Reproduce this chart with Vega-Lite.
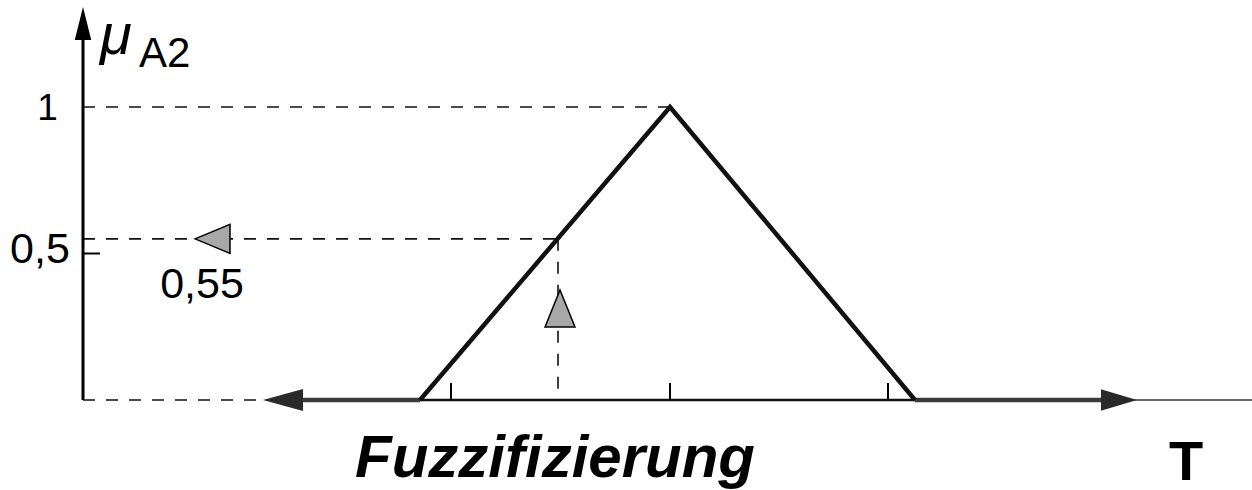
{
  "$schema": "https://vega.github.io/schema/vega-lite/v6.json",
  "width": 1252,
  "height": 490,
  "padding": 0,
  "autosize": {"type": "none"},
  "background": "white",
  "config": {"view": {"stroke": null}},
  "datasets": {
    "guides": [
      {"x": 83, "y": 1, "x2": 670, "y2": 1},
      {"x": 83, "y": 0.55, "x2": 558, "y2": 0.55},
      {"x": 558, "y": 0.55, "x2": 558, "y2": 0},
      {"x": 83, "y": 0, "x2": 263, "y2": 0}
    ],
    "yaxis": [{"x": 83, "y": 0, "x2": 83, "y2": 1.27}],
    "ticks": [
      {"x": 83, "y": 0.5, "x2": 100, "y2": 0.5},
      {"x": 451, "y": 0, "x2": 451, "y2": 0.058},
      {"x": 670, "y": 0, "x2": 670, "y2": 0.058},
      {"x": 888, "y": 0, "x2": 888, "y2": 0.058}
    ],
    "thickbase": [
      {"x": 300, "y": 0, "x2": 420, "y2": 0},
      {"x": 915, "y": 0, "x2": 1105, "y2": 0}
    ],
    "midbase": [{"x": 420, "y": 0, "x2": 915, "y2": 0}],
    "thinbase": [{"x": 1130, "y": 0, "x2": 1252, "y2": 0}],
    "membership": [
      {"t": 420, "mu": 0},
      {"t": 670, "mu": 1},
      {"t": 915, "mu": 0}
    ],
    "upArrow": [{"x": 83, "y": 1.285}],
    "leftArrow": [{"x": 283, "y": 0}],
    "rightArrow": [{"x": 1119, "y": 0}],
    "leftMarker": [{"x": 212.5, "y": 0.55}],
    "upMarker": [{"x": 560, "y": 0.312}]
  },
  "encoding": {},
  "layer": [
    {
      "data": {"name": "guides"},
      "mark": {"type": "rule", "color": "#111", "strokeWidth": 1.6, "strokeDash": [12, 11]},
      "encoding": {
        "x": {"field": "x", "type": "quantitative", "scale": {"domain": [0, 1252], "nice": false, "zero": false}, "axis": null},
        "y": {"field": "y", "type": "quantitative", "scale": {"domain": [-0.3072, 1.3652], "nice": false, "zero": false}, "axis": null},
        "x2": {"field": "x2"},
        "y2": {"field": "y2"}
      }
    },
    {
      "data": {"name": "yaxis"},
      "mark": {"type": "rule", "color": "#000", "strokeWidth": 3},
      "encoding": {
        "x": {"field": "x", "type": "quantitative"},
        "y": {"field": "y", "type": "quantitative"},
        "x2": {"field": "x2"},
        "y2": {"field": "y2"}
      }
    },
    {
      "data": {"name": "ticks"},
      "mark": {"type": "rule", "color": "#000", "strokeWidth": 2},
      "encoding": {
        "x": {"field": "x", "type": "quantitative"},
        "y": {"field": "y", "type": "quantitative"},
        "x2": {"field": "x2"},
        "y2": {"field": "y2"}
      }
    },
    {
      "data": {"name": "thickbase"},
      "mark": {"type": "rule", "color": "#3a3a3a", "strokeWidth": 4.5},
      "encoding": {
        "x": {"field": "x", "type": "quantitative"},
        "y": {"field": "y", "type": "quantitative"},
        "x2": {"field": "x2"},
        "y2": {"field": "y2"}
      }
    },
    {
      "data": {"name": "midbase"},
      "mark": {"type": "rule", "color": "#111", "strokeWidth": 2.5},
      "encoding": {
        "x": {"field": "x", "type": "quantitative"},
        "y": {"field": "y", "type": "quantitative"},
        "x2": {"field": "x2"},
        "y2": {"field": "y2"}
      }
    },
    {
      "data": {"name": "thinbase"},
      "mark": {"type": "rule", "color": "#333", "strokeWidth": 1.5},
      "encoding": {
        "x": {"field": "x", "type": "quantitative"},
        "y": {"field": "y", "type": "quantitative"},
        "x2": {"field": "x2"},
        "y2": {"field": "y2"}
      }
    },
    {
      "data": {"name": "membership"},
      "mark": {"type": "line", "color": "#111", "strokeWidth": 4.5, "strokeJoin": "miter"},
      "encoding": {
        "x": {"field": "t", "type": "quantitative"},
        "y": {"field": "mu", "type": "quantitative"},
        "order": {"field": "t"}
      }
    },
    {
      "data": {"name": "upArrow"},
      "mark": {"type": "point", "filled": true, "color": "#000", "opacity": 1, "shape": "M0,-1L0.5,1L-0.5,1Z", "size": 1089},
      "encoding": {
        "x": {"field": "x", "type": "quantitative"},
        "y": {"field": "y", "type": "quantitative"}
      }
    },
    {
      "data": {"name": "leftArrow"},
      "mark": {"type": "point", "filled": true, "color": "#2a2a2a", "opacity": 1, "shape": "M-1,0L1,-0.55L1,0.55Z", "size": 1600},
      "encoding": {
        "x": {"field": "x", "type": "quantitative"},
        "y": {"field": "y", "type": "quantitative"}
      }
    },
    {
      "data": {"name": "rightArrow"},
      "mark": {"type": "point", "filled": true, "color": "#2a2a2a", "opacity": 1, "shape": "M1,0L-1,-0.6L-1,0.6Z", "size": 1296},
      "encoding": {
        "x": {"field": "x", "type": "quantitative"},
        "y": {"field": "y", "type": "quantitative"}
      }
    },
    {
      "data": {"name": "leftMarker"},
      "mark": {"type": "point", "filled": true, "fill": "#a8a8a8", "stroke": "#000", "strokeWidth": 1.5, "opacity": 1, "shape": "M-1,0L1,-0.83L1,0.83Z", "size": 1225},
      "encoding": {
        "x": {"field": "x", "type": "quantitative"},
        "y": {"field": "y", "type": "quantitative"}
      }
    },
    {
      "data": {"name": "upMarker"},
      "mark": {"type": "point", "filled": true, "fill": "#a8a8a8", "stroke": "#000", "strokeWidth": 1.5, "opacity": 1, "shape": "M0,-1L0.81,1L-0.81,1Z", "size": 1369},
      "encoding": {
        "x": {"field": "x", "type": "quantitative"},
        "y": {"field": "y", "type": "quantitative"}
      }
    },
    {
      "data": {"values": [{"x": 47.5, "y": 0.956, "label": "1"}]},
      "mark": {"type": "text", "font": "Liberation Sans", "fontSize": 37, "align": "center", "baseline": "alphabetic", "color": "#000"},
      "encoding": {
        "x": {"field": "x", "type": "quantitative"},
        "y": {"field": "y", "type": "quantitative"},
        "text": {"field": "label"}
      }
    },
    {
      "data": {"values": [
        {"x": 40, "y": 0.4676, "label": "0,5"},
        {"x": 202, "y": 0.348, "label": "0,55"}
      ]},
      "mark": {"type": "text", "font": "Liberation Sans", "fontSize": 43, "align": "center", "baseline": "alphabetic", "color": "#000"},
      "encoding": {
        "x": {"field": "x", "type": "quantitative"},
        "y": {"field": "y", "type": "quantitative"},
        "text": {"field": "label"}
      }
    },
    {
      "data": {"values": [{"x": 100, "y": 1.18, "label": "μ"}]},
      "mark": {"type": "text", "font": "Liberation Sans", "fontSize": 58, "fontStyle": "italic", "align": "left", "baseline": "alphabetic", "color": "#000"},
      "encoding": {
        "x": {"field": "x", "type": "quantitative"},
        "y": {"field": "y", "type": "quantitative"},
        "text": {"field": "label"}
      }
    },
    {
      "data": {"values": [{"x": 139, "y": 1.1365, "label": "A2"}]},
      "mark": {"type": "text", "font": "Liberation Sans", "fontSize": 42, "align": "left", "baseline": "alphabetic", "color": "#000"},
      "encoding": {
        "x": {"field": "x", "type": "quantitative"},
        "y": {"field": "y", "type": "quantitative"},
        "text": {"field": "label"}
      }
    },
    {
      "data": {"values": [{"x": 555, "y": -0.262, "label": "Fuzzifizierung"}]},
      "mark": {"type": "text", "font": "Liberation Sans", "fontSize": 60, "fontStyle": "italic", "fontWeight": "bold", "align": "center", "baseline": "alphabetic", "color": "#000"},
      "encoding": {
        "x": {"field": "x", "type": "quantitative"},
        "y": {"field": "y", "type": "quantitative"},
        "text": {"field": "label"}
      }
    },
    {
      "data": {"values": [{"x": 1186, "y": -0.272, "label": "T"}]},
      "mark": {"type": "text", "font": "Liberation Sans", "fontSize": 56, "fontWeight": "bold", "align": "center", "baseline": "alphabetic", "color": "#000"},
      "encoding": {
        "x": {"field": "x", "type": "quantitative"},
        "y": {"field": "y", "type": "quantitative"},
        "text": {"field": "label"}
      }
    }
  ]
}
